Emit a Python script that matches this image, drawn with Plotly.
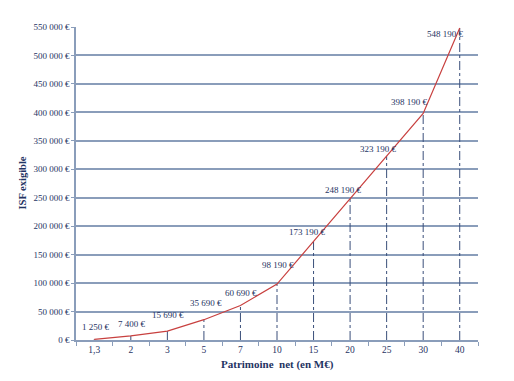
import plotly.graph_objects as go

categories = ["1,3", "2", "3", "5", "7", "10", "15", "20", "25", "30", "40"]
isf_values = [1250, 7400, 15690, 35690, 60690, 98190, 173190, 248190, 323190, 398190, 548190]
value_labels = ["1 250 €", "7 400 €", "15 690 €", "35 690 €", "60 690 €", "98 190 €",
                "173 190 €", "248 190 €", "323 190 €", "398 190 €", "548 190 €"]
y_ticks = [0, 50000, 100000, 150000, 200000, 250000, 300000, 350000, 400000, 450000, 500000, 550000]
y_tick_labels = ["0 €", "50 000 €", "100 000 €", "150 000 €", "200 000 €", "250 000 €",
                 "300 000 €", "350 000 €", "400 000 €", "450 000 €", "500 000 €", "550 000 €"]

NAVY = "#1f3463"
GRID = "#8a9dba"
FONT = "Liberation Serif"

pos = list(range(len(categories)))

fig = go.Figure()

# drop lines
for p, v in zip(pos, isf_values):
    fig.add_trace(go.Scatter(x=[p, p], y=[0, v], mode="lines",
                             line=dict(color="#3a4f7a", width=1, dash="dashdot"),
                             hoverinfo="skip", showlegend=False))

fig.add_trace(go.Scatter(x=pos, y=isf_values, mode="lines",
                         line=dict(color="#c8403f", width=1.2), showlegend=False))

# label offsets (pixels) -- style
xshifts = [2, 1, 1, 2, 1, 1, -6, -7, -8, -14, -14]
yshifts = [12, 12, 16, 17, 12, 19, 9, 9, 7, 11, -6]
for p, v, t, xs, ys in zip(pos, isf_values, value_labels, xshifts, yshifts):
    fig.add_annotation(x=p, y=v, text=t, showarrow=False, xshift=xs, yshift=ys,
                       xanchor="center", yanchor="middle",
                       font=dict(family=FONT, size=9, color=NAVY))

# axis titles
fig.add_annotation(x=0.5, xref="paper", y=0, yref="paper", yshift=-24, yanchor="middle",
                   text="<b>Patrimoine  net (en M€)</b>", showarrow=False,
                   font=dict(family=FONT, size=11, color=NAVY))
fig.add_annotation(x=0, xref="paper", xshift=-54, xanchor="center", y=0.5, yref="paper",
                   text="<b>ISF exigible</b>", textangle=-90, showarrow=False,
                   font=dict(family=FONT, size=10.5, color=NAVY))

# page body has an 8px default margin: compensate so the plot lands where it should
fig.update_layout(
    width=498, height=365,
    margin=dict(l=68, r=28, t=19, b=33),
    paper_bgcolor="white", plot_bgcolor="white",
    font=dict(family=FONT, color=NAVY),
)
fig.update_xaxes(
    range=[-0.5, len(categories) - 0.5], tickvals=pos, ticktext=categories,
    showgrid=False, showline=True, linecolor=GRID, linewidth=1.5, zeroline=False,
    ticks="", tickangle=0, automargin=False,
    minor=dict(tickvals=[p - 0.5 for p in pos] + [len(pos) - 0.5], ticks="outside",
               ticklen=4, tickcolor=GRID, showgrid=False),
    tickfont=dict(family=FONT, size=9.5, color=NAVY),
)
fig.update_yaxes(
    range=[0, 550000], tickvals=y_ticks, ticktext=y_tick_labels,
    showgrid=True, gridcolor=GRID, gridwidth=1.5,
    showline=True, linecolor=GRID, linewidth=1.5,
    ticks="outside", ticklen=3, tickcolor=GRID, zeroline=False, automargin=False,
    tickfont=dict(family=FONT, size=9, color=NAVY),
)

fig.write_html("out.html")
